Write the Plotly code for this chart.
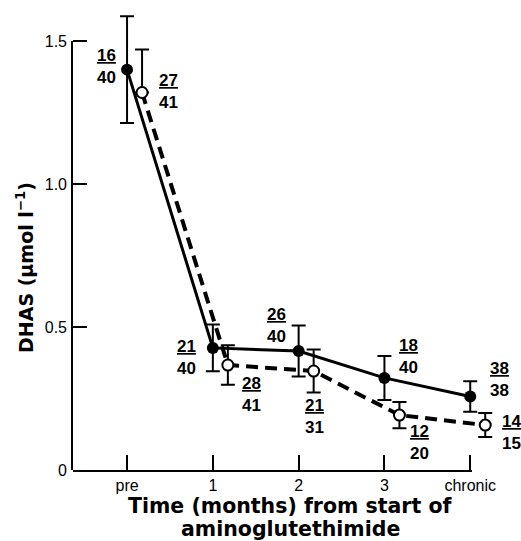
import plotly.graph_objects as go

# ---------------- data ----------------
timepoints = ["pre", "1", "2", "3", "chronic"]
tick_pos = [0, 1, 2, 3, 4]
y_ticks = [0, 0.5, 1.0, 1.5]
y_ticktext = ["0", "0.5", "1.0", "1.5"]

solid_mean = [1.40, 0.427, 0.416, 0.322, 0.257]
solid_err = [0.187, 0.082, 0.089, 0.077, 0.053]
open_mean = [1.32, 0.367, 0.346, 0.192, 0.157]
open_err_plus = [0.15, 0.069, 0.075, 0.046, 0.042]
open_err_minus = [0.0, 0.069, 0.075, 0.046, 0.042]

solid_num = [16, 21, 26, 18, 38]
solid_den = [40, 40, 40, 40, 38]
open_num = [27, 28, 21, 12, 14]
open_den = [41, 41, 31, 20, 15]

# ---------------- layout / style ----------------
OPEN_OFFSET = 0.175
open_x = [p + OPEN_OFFSET for p in tick_pos]
solid_label_shift = [(-21, 3), (-26, -10), (-22, 26), (24, 21), (29, 17)]
open_label_shift = [(26, 1), (24, -29), (1, -45), (20, -27), (26, -7)]

TICK_FONT = dict(family="Liberation Sans", size=16, color="black")
FRAC_FONT = dict(family="Liberation Sans", size=17, color="black")
TITLE_FONT = dict(family="DejaVu Sans", size=20.5, color="black")

fig = go.Figure()

fig.add_trace(go.Scatter(
    x=open_x, y=open_mean, mode="lines+markers",
    line=dict(color="black", width=4, dash="12px,7px"),
    marker=dict(size=11, color="white", line=dict(color="black", width=2)),
    error_y=dict(type="data", symmetric=False, array=open_err_plus,
                 arrayminus=open_err_minus, color="black", thickness=2, width=7),
    cliponaxis=False, showlegend=False, hoverinfo="skip",
))
fig.add_trace(go.Scatter(
    x=tick_pos, y=solid_mean, mode="lines+markers",
    line=dict(color="black", width=3),
    marker=dict(size=12, color="black"),
    error_y=dict(type="data", array=solid_err, color="black", thickness=2, width=7),
    cliponaxis=False, showlegend=False, hoverinfo="skip",
))
# empty traces so that the axis-line-only axes get their subplots
fig.add_trace(go.Scatter(x=[None], y=[None], xaxis="x2", yaxis="y", mode="markers",
                         showlegend=False, hoverinfo="skip"))
fig.add_trace(go.Scatter(x=[None], y=[None], xaxis="x", yaxis="y2", mode="markers",
                         showlegend=False, hoverinfo="skip"))

annotations = []
for xv, yv, n, d, (dx, dy) in zip(tick_pos, solid_mean, solid_num, solid_den, solid_label_shift):
    annotations.append(dict(x=xv, y=yv, xref="x", yref="y", text=f"<b><u>{n}</u><br>{d}</b>",
                            showarrow=False, xshift=dx, yshift=dy, font=FRAC_FONT,
                            xanchor="center", yanchor="middle", align="center"))
for xv, yv, n, d, (dx, dy) in zip(open_x, open_mean, open_num, open_den, open_label_shift):
    annotations.append(dict(x=xv, y=yv, xref="x", yref="y", text=f"<b><u>{n}</u><br>{d}</b>",
                            showarrow=False, xshift=dx, yshift=dy, font=FRAC_FONT,
                            xanchor="center", yanchor="middle", align="center"))

# axis titles
annotations.append(dict(x=0, y=0, xref="paper", yref="paper", xshift=217, yshift=-36,
                        text="<b>Time (months) from start of</b>", showarrow=False,
                        font=TITLE_FONT, xanchor="center", yanchor="middle"))
annotations.append(dict(x=0, y=0, xref="paper", yref="paper", xshift=217, yshift=-59,
                        text="<b>aminoglutethimide</b>", showarrow=False,
                        font=TITLE_FONT, xanchor="center", yanchor="middle"))
annotations.append(dict(x=0, y=0, xref="paper", yref="paper", xshift=-48, yshift=202,
                        text="<b>DHAS (μmol l<sup>−1</sup>)</b>", showarrow=False, textangle=-90,
                        font=dict(family="DejaVu Sans", size=19, color="black"),
                        xanchor="center", yanchor="middle"))

fig.update_layout(
    width=521, height=541,
    margin=dict(l=73, r=21, t=1, b=71),
    paper_bgcolor="white", plot_bgcolor="rgba(0,0,0,0)",
    showlegend=False,
    annotations=annotations,
    xaxis=dict(range=[-0.63, 4.347], domain=[0, 1], anchor="y",
               tickvals=tick_pos, ticktext=timepoints,
               ticks="inside", ticklen=15, tickwidth=2, tickcolor="black",
               ticklabelstandoff=4,
               showline=False, showgrid=False, zeroline=False, tickfont=TICK_FONT),
    yaxis=dict(range=[0, 1.64], domain=[0, 1], anchor="x",
               tickvals=y_ticks, ticktext=y_ticktext,
               ticks="inside", ticklen=14, tickwidth=2, tickcolor="black",
               ticklabelstandoff=5,
               showline=False, showgrid=False, zeroline=False, tickfont=TICK_FONT),
    xaxis2=dict(range=[0, 1], domain=[0, 0.9344], anchor="y",
                showline=True, linewidth=2, linecolor="black",
                showticklabels=False, ticks="", showgrid=False, zeroline=False),
    yaxis2=dict(range=[0, 1], domain=[0, 0.9146], anchor="x",
                showline=True, linewidth=2, linecolor="black",
                showticklabels=False, ticks="", showgrid=False, zeroline=False),
)

fig.write_html("out.html")
